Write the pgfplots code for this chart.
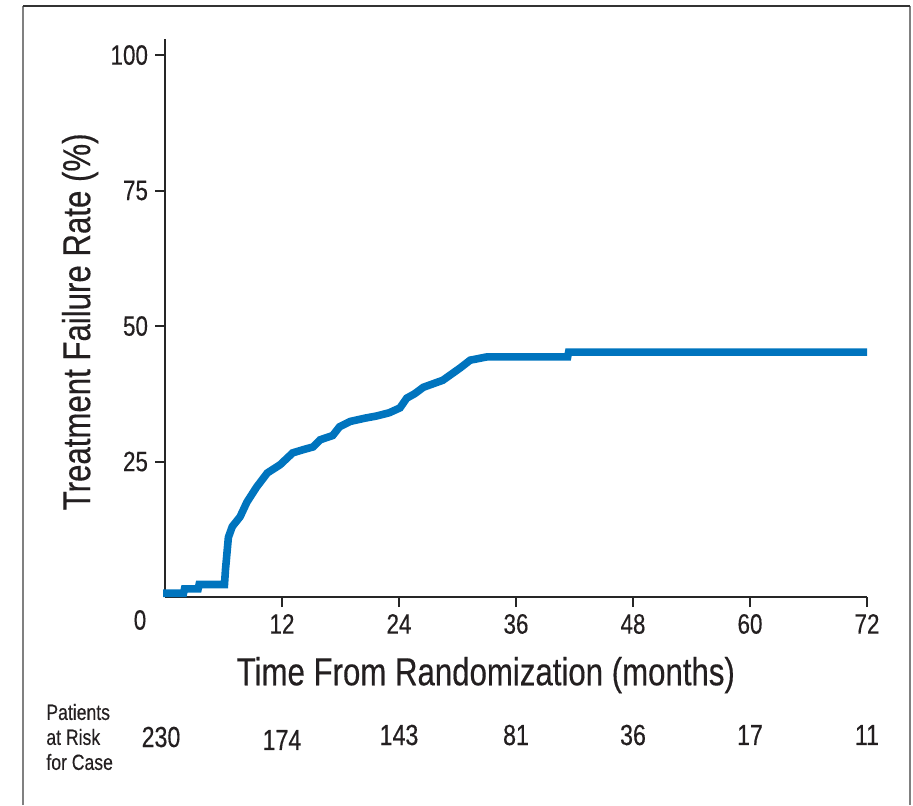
\documentclass[border=0pt]{standalone}
\usepackage{fontspec}
\setmainfont{Liberation Sans}[FakeStretch=0.8, FakeBold=0.35]
\usepackage{pgfplots}
\pgfplotsset{compat=1.18}
\definecolor{kmblue}{RGB}{0,116,190}
\definecolor{txt}{RGB}{35,31,32}
\begin{document}
\begin{tikzpicture}
\useasboundingbox (0,0) rectangle (456.5pt,402.5pt);
\draw[black!50, line width=1.4pt] (11.5pt,0) -- (11.5pt,399.5pt);
\draw[black!50, line width=1.4pt] (455pt,0) -- (455pt,399.5pt);
\draw[black!80, line width=1.4pt] (11.5pt,399.5pt) -- (455pt,399.5pt);
\begin{axis}[
  at={(82.5pt,104pt)}, anchor=south west,
  scale only axis, width=351pt, height=279.1pt,
  xmin=0, xmax=72, ymin=0, ymax=103,
  axis x line*=bottom, axis y line*=left,
  axis line style={line width=1pt, black!85, -},
  xtick={12,24,...,72}, ytick={25,50,75,100},
  tick align=outside, major tick length=5pt,
  tick style={line width=1pt, black!85},
  ticklabel style={font=\fontsize{14}{16}\selectfont, text=txt},
  /pgf/number format/assume math mode=true,
  xlabel={Time From Randomization (months)},
  ylabel={Treatment Failure Rate (\%)},
  label style={font=\fontsize{19.5}{22}\selectfont, text=txt},
  xlabel style={at={(axis description cs:0.457,-0.14)}, anchor=center},
  ylabel style={at={(axis description cs:-0.121,0.493)}, anchor=center},
  clip=false,
]
\addplot[kmblue, line width=3.8pt, line join=miter] coordinates {
(-0.2,0.7) (1.9,0.7) (2.0,1.5) (3.4,1.5) (3.5,2.3) (6.1,2.3) (6.2,5) (6.4,9) (6.5,11)
(6.9,13) (7.7,14.8) (8.4,17.5) (9.4,20.3) (10.5,22.9) (11.8,24.4) (13.1,26.6)
(14.2,27.2) (15.2,27.7) (15.9,29.0) (17.2,29.8) (17.9,31.4) (19.0,32.4)
(20.5,33.0) (21.7,33.4) (23.0,34.0) (24.1,34.9) (24.8,36.7) (25.6,37.5)
(26.5,38.7) (28.5,40.0) (30.3,42.3) (31.3,43.7) (33.0,44.3) (41.3,44.3)
(41.4,45.2) (72,45.2)
};
\node[font=\fontsize{14}{16}\selectfont, text=txt] at (axis cs:0,0) [xshift=-12.5pt, yshift=-11.5pt] {0};
\begin{scope}[every node/.style={font=\fontsize{14.5}{16}\selectfont, text=txt}]
\node at (axis cs:0,0)  [xshift=-2pt, yshift=-70pt] {230};
\node at (axis cs:12,0) [yshift=-71.5pt] {174};
\node at (axis cs:24,0) [yshift=-69pt] {143};
\node at (axis cs:36,0) [yshift=-69pt] {81};
\node at (axis cs:48,0) [yshift=-69pt] {36};
\node at (axis cs:60,0) [yshift=-69pt] {17};
\node at (axis cs:72,0) [yshift=-69pt] {11};
\end{scope}
\end{axis}
\node[anchor=west, align=left, text=txt, font=\fontsize{11}{12.5}\selectfont, inner sep=0pt] at (23pt,34pt) {Patients\\at Risk\\for Case};
\end{tikzpicture}
\end{document}
